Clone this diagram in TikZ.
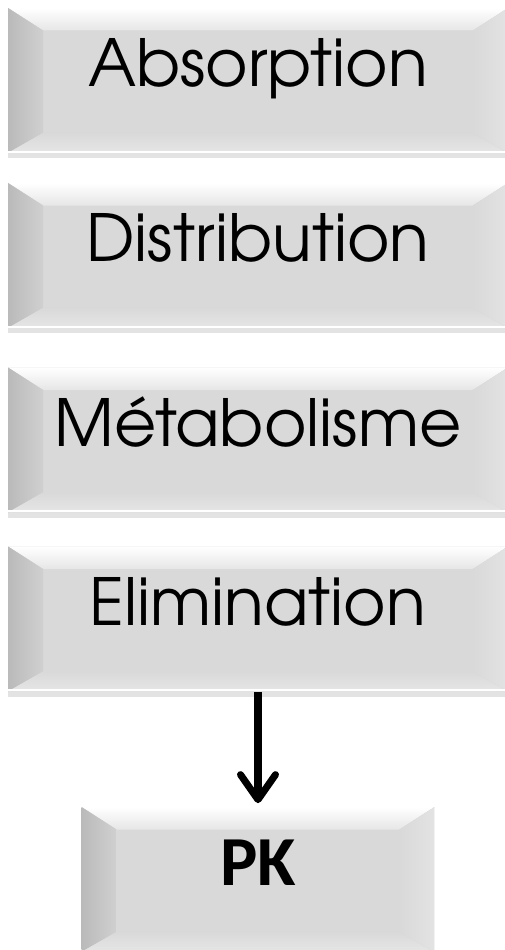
\documentclass[tikz,border=0pt]{standalone}
\usepackage{fontspec}
\newfontfamily\boxfont{TeX Gyre Adventor}
\newfontfamily\pkfont{Carlito}
\usetikzlibrary{arrows.meta,positioning,shadows}
\definecolor{facegray}{HTML}{D9D9D9}
\definecolor{leftgray}{HTML}{BABABA}
\definecolor{leftinner}{HTML}{D0D0D0}
\definecolor{topgray}{HTML}{E6E6E6}
\definecolor{rightgray}{HTML}{E3E3E3}
\tikzset{
  bevel/.style={fill=facegray, inner sep=0pt,
    text depth=0em, text height=0.72em,
    drop shadow={shadow xshift=0pt, shadow yshift=-3pt, opacity=0.22},
    path picture={
      \coordinate (nw) at (path picture bounding box.north west);
      \coordinate (ne) at (path picture bounding box.north east);
      \coordinate (sw) at (path picture bounding box.south west);
      \coordinate (se) at (path picture bounding box.south east);
      \coordinate (inw) at ([shift={(0.7cm,-0.45cm)}]nw);
      \coordinate (ine) at ([shift={(-0.7cm,-0.45cm)}]ne);
      \coordinate (isw) at ([shift={(0.7cm,0.4cm)}]sw);
      \coordinate (ise) at ([shift={(-0.7cm,0.4cm)}]se);
      % bevel faces
      \fill[top color=white, bottom color=topgray] (nw) -- (ne) -- (ine) -- (inw) -- cycle;
      \fill[left color=leftgray, right color=leftinner] (nw) -- (inw) -- (isw) -- (sw) -- cycle;
      \fill[top color=facegray, bottom color=topgray] (sw) -- (isw) -- (ise) -- (se) -- cycle;
      \fill[left color=facegray, right color=rightgray] (ne) -- (ine) -- (ise) -- (se) -- cycle;
      \draw[white, line width=1.2pt] ([yshift=0.6pt]sw) -- ([yshift=0.6pt]se);
    }},
  stepbox/.style={bevel, minimum width=10cm, minimum height=2.9cm,
    font=\boxfont\fontsize{37}{42}\selectfont},
  pkbox/.style={bevel, minimum width=7.06cm, minimum height=2.9cm,
    font=\pkfont\bfseries\fontsize{40}{44}\selectfont},
  pkarrow/.style={line width=4pt,
    -{Straight Barb[length=0.5cm, width=0.7cm, line cap=round, line join=round]}}
}

\begin{document}
\begin{tikzpicture}[x=0.02cm, y=0.02cm]
    \useasboundingbox (0,0) rectangle (504,950);
    % les quatre etapes
    \node[stepbox] (absorption) at (258,869.5) {Absorption};
    \node[stepbox] (distribution) at (258,694.5) {Distribution};
    \node[stepbox] (metabolisme) at (258,510) {Métabolisme};
    \node[stepbox] (elimination) at (258,331) {Elimination};
    % resultat
    \node[pkbox] (pk) at (258,70.5) {PK};
    \draw[pkarrow, shorten >=2pt] (elimination) -- (pk);
\end{tikzpicture}
\end{document}
